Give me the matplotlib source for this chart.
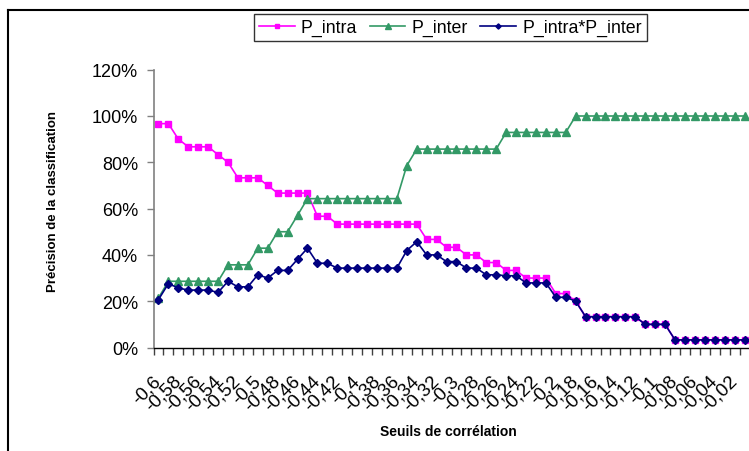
import matplotlib
matplotlib.use("Agg")
import matplotlib.pyplot as plt
from matplotlib.ticker import PercentFormatter, FixedLocator
from matplotlib.lines import Line2D
import numpy as np

plt.rcParams['font.family'] = ['Liberation Sans', 'DejaVu Sans']

# Seuils de corrélation: -0,60 ... -0,01 (60 seuils), une étiquette sur deux
tick_labels = ["-0,6", "-0,58", "-0,56", "-0,54", "-0,52", "-0,5", "-0,48", "-0,46",
               "-0,44", "-0,42", "-0,4", "-0,38", "-0,36", "-0,34", "-0,32", "-0,3",
               "-0,28", "-0,26", "-0,24", "-0,22", "-0,2", "-0,18", "-0,16", "-0,14",
               "-0,12", "-0,1", "-0,08", "-0,06", "-0,04", "-0,02"]
n_seuils = 60

# Précision (%)
p_intra = [96.7, 96.7, 90.0, 86.7, 86.7, 86.7, 83.3, 80.0, 73.3, 73.3,
           73.3, 70.0, 66.7, 66.7, 66.7, 66.7, 56.7, 56.7, 53.3, 53.3,
           53.3, 53.3, 53.3, 53.3, 53.3, 53.3, 53.3, 46.7, 46.7, 43.3,
           43.3, 40.0, 40.0, 36.7, 36.7, 33.3, 33.3, 30.0, 30.0, 30.0,
           23.3, 23.3, 20.0, 13.3, 13.3, 13.3, 13.3, 13.3, 13.3, 10.0,
           10.0, 10.0, 3.3, 3.3, 3.3, 3.3, 3.3, 3.3, 3.3, 3.3]
p_inter = [21.4, 28.6, 28.6, 28.6, 28.6, 28.6, 28.6, 35.7, 35.7, 35.7,
           42.9, 42.9, 50.0, 50.0, 57.1, 64.3, 64.3, 64.3, 64.3, 64.3,
           64.3, 64.3, 64.3, 64.3, 64.3, 78.6, 85.7, 85.7, 85.7, 85.7,
           85.7, 85.7, 85.7, 85.7, 85.7, 92.9, 92.9, 92.9, 92.9, 92.9,
           92.9, 92.9, 100.0, 100.0, 100.0, 100.0, 100.0, 100.0, 100.0, 100.0,
           100.0, 100.0, 100.0, 100.0, 100.0, 100.0, 100.0, 100.0, 100.0, 100.0]
p_prod = [20.7, 27.6, 25.7, 24.8, 24.8, 24.8, 23.8, 28.6, 26.2, 26.2,
          31.4, 30.0, 33.3, 33.3, 38.1, 42.9, 36.4, 36.4, 34.3, 34.3,
          34.3, 34.3, 34.3, 34.3, 34.3, 41.9, 45.7, 40.0, 40.0, 37.1,
          37.1, 34.3, 34.3, 31.4, 31.4, 31.0, 31.0, 27.9, 27.9, 27.9,
          21.7, 21.7, 20.0, 13.3, 13.3, 13.3, 13.3, 13.3, 13.3, 10.0,
          10.0, 10.0, 3.3, 3.3, 3.3, 3.3, 3.3, 3.3, 3.3, 3.3]

W, H = 749, 452
fig = plt.figure(figsize=(W / 100, H / 100), dpi=100)
ax = fig.add_axes([153.5 / W, 1 - 348.5 / H, 596 / W, (348.5 - 70.7) / H])

x = np.arange(n_seuils)
ax.plot(x, p_intra, color="#FF00FF", lw=1.2, marker="s", ms=4.6, label="P_intra", clip_on=False)
ax.plot(x, p_inter, color="#339966", lw=1.2, marker="^", ms=5.2, label="P_inter", clip_on=False)
ax.plot(x, p_prod, color="#000080", lw=1.2, marker="D", ms=3.8, label="P_intra*P_inter", clip_on=False)

ax.set_xlim(-0.5, n_seuils - 0.5)
ax.set_ylim(0, 120)
ax.set_yticks(np.arange(0, 121, 20))
ax.yaxis.set_major_formatter(PercentFormatter(decimals=0))

ax.set_xticks(np.arange(0, n_seuils, 2))
ax.set_xticklabels(tick_labels, rotation=45, ha="right", va="center",
                   rotation_mode="anchor", fontsize=13.5)
ax.xaxis.set_minor_locator(FixedLocator(np.arange(-0.5, n_seuils, 1)))
ax.tick_params(axis="x", which="major", length=0, pad=22)
ax.tick_params(axis="x", which="minor", length=5, width=1, color="#404040", direction="out")
ax.tick_params(axis="y", length=5, width=1, color="#808080", labelsize=13, pad=6)

for s in ["top", "right"]:
    ax.spines[s].set_visible(False)
ax.spines["left"].set_color("#808080")
ax.spines["left"].set_linewidth(1.2)
ax.spines["bottom"].set_color("black")
ax.spines["bottom"].set_linewidth(1.0)

# titres des axes
fig.text(53 / W, 1 - 201 / H, "Précision de la classification", rotation=90,
         ha="center", va="center", fontsize=9.5, fontweight="bold")
fig.text(448 / W, 1 - 432 / H, "Seuils de corrélation", ha="center", va="center",
         fontsize=10, fontweight="bold")

leg = ax.legend(loc="center", bbox_to_anchor=(450.5 / W, 1 - 28.5 / H),
                bbox_transform=fig.transFigure, ncol=3, fontsize=12.8, frameon=True,
                fancybox=False, edgecolor="black", handlelength=2.0, handletextpad=0.35,
                columnspacing=0.7, borderpad=0.3, markerscale=0.7)
leg.get_frame().set_linewidth(1.0)

# cadre du graphique
fig.add_artist(Line2D([8 / W, 1.0], [1 - 11 / H, 1 - 11 / H], transform=fig.transFigure,
                      color="black", lw=1.5))
fig.add_artist(Line2D([8 / W, 8 / W], [1 - 11 / H, 0.0], transform=fig.transFigure,
                      color="black", lw=1.5))

fig.savefig("out.png", dpi=100)
